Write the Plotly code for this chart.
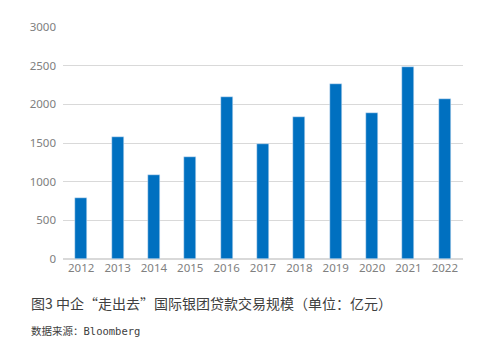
import plotly.graph_objects as go

years = ["2012", "2013", "2014", "2015", "2016", "2017", "2018", "2019", "2020", "2021", "2022"]
values = [795, 1580, 1083, 1318, 2092, 1488, 1842, 2268, 1885, 2477, 2066]
y_ticks = [0, 500, 1000, 1500, 2000, 2500, 3000]

fig = go.Figure()
fig.add_trace(go.Bar(x=years, y=values, marker_color="#0070C0", width=0.33))

fig.update_layout(
    width=501, height=351,
    margin=dict(l=63, r=38, t=27, b=92),
    paper_bgcolor="white", plot_bgcolor="white",
    showlegend=False,
    font=dict(family="Noto Sans, Noto Sans CJK SC", color="#7f7f7f", size=11),
    bargap=0,
)
fig.update_xaxes(type="category", showgrid=False, showline=False, ticks="",
                 tickfont=dict(size=11.5, color="#808080"))
fig.update_yaxes(range=[0, 3000], tickvals=y_ticks, showgrid=True, gridcolor="#d9d9d9",
                 gridwidth=1, zeroline=True, zerolinecolor="#d9d9d9", showline=False,
                 ticks="", tickfont=dict(size=11.5, color="#808080"), ticklabelstandoff=6)

fig.add_annotation(text="图3 中企“走出去”国际银团贷款交易规模（单位：亿元）",
                   xref="paper", yref="paper", x=-0.085, y=-0.19,
                   xanchor="left", yanchor="middle", showarrow=False,
                   font=dict(family="Noto Sans CJK SC", size=14, color="#404040"))
fig.add_annotation(text="数据来源：Bloomberg",
                   xref="paper", yref="paper", x=-0.085, y=-0.31,
                   xanchor="left", yanchor="middle", showarrow=False,
                   font=dict(family="DejaVu Sans Mono, Noto Sans CJK SC", size=10.5, color="#404040"))

fig.write_html("out.html")
